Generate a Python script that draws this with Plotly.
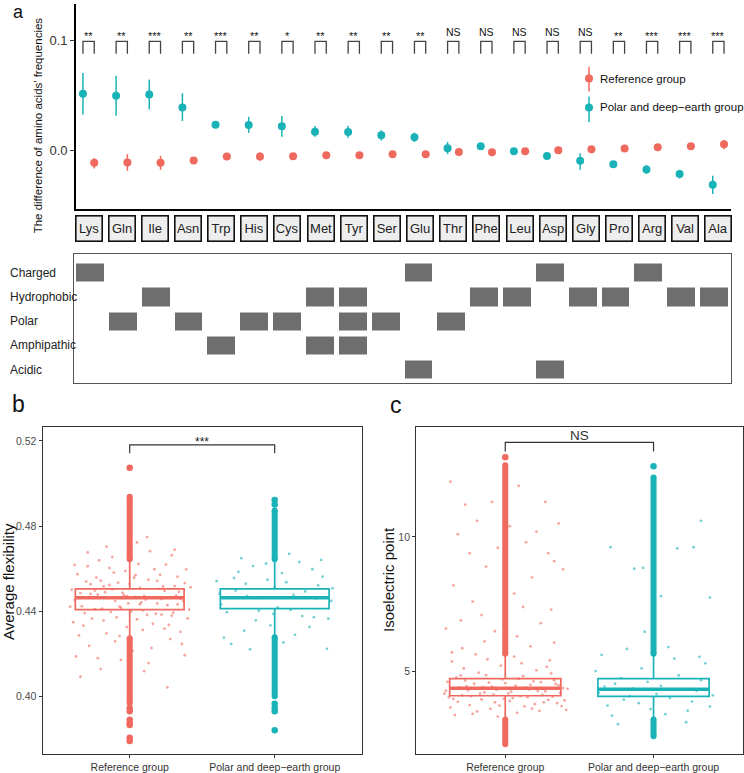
import plotly.graph_objects as go

W, H = 744, 773
def px(x): return x / W
def py(y): return 1 - y / H

RED = "#F0695F"
TEAL = "#19B3B7"
NARROW = "Liberation Sans Narrow, Arial Narrow, Liberation Sans, Arial"
SANS = "Liberation Sans, Arial, Helvetica"

# ---------------- panel a data ----------------
amino = ["Lys","Gln","Ile","Asn","Trp","His","Cys","Met","Tyr","Ser",
         "Glu","Thr","Phe","Leu","Asp","Gly","Pro","Arg","Val","Ala"]
polar_mean = [0.0515,0.0497,0.0509,0.0391,0.0233,0.0230,0.0218,0.0170,0.0167,0.0136,
              0.0118,0.0018,0.0036,-0.0009,-0.0052,-0.0097,-0.0127,-0.0176,-0.0218,-0.0315]
polar_hi = [0.0706,0.0680,0.0645,0.0521,0.0264,0.0306,0.0312,0.0221,0.0221,0.0182,
            0.0161,0.0076,0.0067,0.0006,-0.0030,-0.0027,-0.0100,-0.0136,-0.0179,-0.0233]
polar_lo = [0.0327,0.0315,0.0373,0.0267,0.0203,0.0158,0.0124,0.0124,0.0115,0.0088,
            0.0076,-0.0036,0.0006,-0.0024,-0.0075,-0.0179,-0.0155,-0.0215,-0.0258,-0.0400]
ref_mean = [-0.0115,-0.0112,-0.0115,-0.0094,-0.0058,-0.0058,-0.0055,-0.0045,-0.0045,-0.0036,
            -0.0036,-0.0015,-0.0018,-0.0009,0.0000,0.0009,0.0015,0.0027,0.0036,0.0055]
ref_hi = [-0.0073,-0.0036,-0.0052,-0.0064,-0.0033,-0.0021,-0.0030,-0.0024,-0.0021,-0.0018,
          -0.0018,0.0003,0.0000,0.0009,0.0018,0.0024,0.0030,0.0042,0.0052,0.0094]
ref_lo = [-0.0167,-0.0188,-0.0179,-0.0124,-0.0082,-0.0097,-0.0082,-0.0067,-0.0070,-0.0055,
          -0.0055,-0.0033,-0.0036,-0.0027,-0.0018,-0.0006,0.0000,0.0012,0.0021,0.0009]
signif = ["**","**","***","**","***","**","*","**","**","**",
          "**","NS","NS","NS","NS","NS","**","***","***","***"]
a_ticks = [0.0, 0.1]
a_ticktext = ["0.0", "0.1"]

# ---------------- heatmap data ----------------
properties = ["Charged", "Hydrophobic", "Polar", "Amphipathic", "Acidic"]
members = {
    "Charged": ["Lys", "Glu", "Asp", "Arg"],
    "Hydrophobic": ["Ile", "Met", "Tyr", "Phe", "Leu", "Gly", "Pro", "Val", "Ala"],
    "Polar": ["Gln", "Asn", "His", "Cys", "Tyr", "Ser", "Thr"],
    "Amphipathic": ["Trp", "Met", "Tyr"],
    "Acidic": ["Glu", "Asp"],
}

# ---------------- panels b & c data ----------------
groups = ["Reference group", "Polar and deep\u2212earth group"]

flex_box = {  # q1, median, q3, lower fence, upper fence
    "ref":   [0.4407, 0.4463, 0.4505, 0.4273, 0.4644],
    "polar": [0.4412, 0.4463, 0.4505, 0.4278, 0.4644],
}
flex_dense = {
    "ref":   [(0.4644, 0.4938), (0.3969, 0.4273)],
    "polar": [(0.4644, 0.4873), (0.4000, 0.4278)],
}
flex_single = {
    "ref":   [0.5074, 0.3945, 0.3930, 0.3890, 0.3875, 0.3865, 0.3805, 0.3790],
    "polar": [0.4901, 0.4922, 0.3965, 0.3945, 0.3930, 0.3840],
}
pi_box = {
    "ref":   [4.104, 4.385, 4.742, 3.22, 5.66],
    "polar": [4.080, 4.348, 4.742, 3.22, 5.66],
}
pi_dense = {
    "ref":   [(5.66, 12.66), (2.30, 3.22)],
    "polar": [(5.66, 12.21), (2.60, 3.22)],
}
pi_single = {
    "ref":   [12.96],
    "polar": [12.63],
}
flex_ticks = [0.40, 0.44, 0.48, 0.52]
pi_ticks = [5, 10]

# jittered observations (offset from group centre, value)
ref_b_jitter = [
    (-0.38,0.4452),(-0.31,0.4391),(-0.27,0.4527),(-0.22,0.4478),(-0.18,0.4356),(-0.12,0.4503),
    (-0.07,0.4421),(-0.03,0.4589),(0.04,0.4467),(0.09,0.4312),(0.13,0.4548),(0.19,0.4436),
    (0.24,0.4495),(0.29,0.4379),(0.33,0.4562),(0.37,0.4448),(0.41,0.4407),(-0.40,0.4501),
    (-0.35,0.4286),(-0.29,0.4611),(-0.24,0.4409),(-0.20,0.4543),(-0.15,0.4462),(-0.10,0.4258),
    (-0.05,0.4487),(0.01,0.4399),(0.06,0.4622),(0.11,0.4455),(0.16,0.4341),(0.21,0.4571),
    (0.26,0.4428),(0.31,0.4518),(0.35,0.4303),(0.39,0.4596),(-0.36,0.4574),(-0.33,0.4423),
    (-0.26,0.4365),(-0.21,0.4639),(-0.17,0.4489),(-0.13,0.4397),(-0.08,0.4534),(-0.02,0.4326),
    (0.03,0.4557),(0.08,0.4441),(0.14,0.4682),(0.18,0.4388),(0.23,0.4516),(0.28,0.4269),
    (0.32,0.4473),(0.38,0.4532),(-0.39,0.4348),(-0.34,0.4485),(-0.28,0.4237),(-0.23,0.4558),
    (-0.19,0.4412),(-0.14,0.4603),(-0.09,0.4371),(-0.04,0.4476),(0.02,0.4214),(0.07,0.4509),
    (0.12,0.4383),(0.17,0.4597),(0.22,0.4457),(0.27,0.4335),(0.34,0.4491),(0.40,0.4366),
    (-0.37,0.4187),(-0.30,0.4539),(-0.25,0.4463),(-0.16,0.4296),(-0.11,0.4581),(-0.06,0.4415),
    (0.00,0.4528),(0.05,0.4362),(0.10,0.4472),(0.15,0.4227),(0.20,0.4505),(0.25,0.4619),
    (0.30,0.4393),(0.36,0.4246),(-0.38,0.4617),(-0.32,0.4332),(-0.27,0.4481),(-0.22,0.4179),
    (-0.18,0.4517),(-0.12,0.4654),(-0.07,0.4283),(-0.01,0.4437),(0.04,0.4569),(0.09,0.4404),
    (0.13,0.4156),(0.19,0.4542),(0.24,0.4318),(0.29,0.4663),(0.33,0.4432),(0.38,0.4193),
    (-0.34,0.4092),(-0.20,0.4128),(-0.06,0.4171),(0.10,0.4118),(0.26,0.4042),(0.12,0.4748),
    (-0.16,0.4703),(0.31,0.4689),(-0.29,0.4676),(0.05,0.4723),(-0.41,0.4421),(0.42,0.4512),
    (-0.10,0.4448),(0.16,0.4466),(-0.24,0.4497),(0.22,0.4384),(-0.14,0.4523),(0.35,0.4458),
    (-0.02,0.4471),(0.07,0.4433),
]
polar_b_jitter = [
    (-0.37,0.4432),(-0.30,0.4246),(-0.25,0.4585),(-0.19,0.4471),(-0.13,0.4357),(-0.06,0.4624),
    (0.02,0.4418),(0.08,0.4536),(0.14,0.4289),(0.21,0.4493),(0.27,0.4372),(0.33,0.4562),
    (0.39,0.4448),(-0.40,0.4541),(-0.33,0.4395),(-0.27,0.4497),(-0.21,0.4308),(-0.15,0.4612),
    (-0.09,0.4462),(-0.03,0.4333),(0.05,0.4579),(0.11,0.4406),(0.17,0.4631),(0.24,0.4326),
    (0.30,0.4521),(0.36,0.4223),(-0.35,0.4276),(-0.23,0.4649),(-0.11,0.4402),(0.00,0.4512),
    (0.13,0.4476),(0.26,0.4597),(0.37,0.4365),(-0.28,0.4556),(-0.17,0.4221),(0.06,0.4253),
    (0.19,0.4377),(0.32,0.4641),(-0.05,0.4548),(0.10,0.4669),(-0.38,0.4482),(0.40,0.4508),
    (-0.01,0.4387),(0.28,0.4459),(-0.20,0.4529),
]
ref_c_jitter = [
    (-0.39,4.62),(-0.35,3.98),(-0.31,4.41),(-0.28,5.12),(-0.24,3.76),(-0.21,4.55),(-0.17,4.18),
    (-0.13,4.87),(-0.10,3.62),(-0.06,4.33),(-0.02,4.71),(0.03,3.91),(0.07,4.48),(0.11,5.31),
    (0.15,4.05),(0.19,4.64),(0.23,3.54),(0.27,4.27),(0.31,4.93),(0.35,3.83),(0.39,4.39),
    (-0.37,3.67),(-0.33,4.78),(-0.29,4.12),(-0.26,4.45),(-0.22,3.43),(-0.18,4.96),(-0.14,4.23),
    (-0.11,4.59),(-0.07,3.86),(-0.03,5.22),(0.01,4.36),(0.05,4.02),(0.09,4.74),(0.13,3.71),
    (0.17,4.51),(0.21,5.05),(0.25,4.14),(0.29,3.95),(0.33,4.68),(0.37,4.21),(0.41,3.58),
    (-0.40,4.29),(-0.36,5.38),(-0.32,3.88),(-0.27,4.67),(-0.23,4.09),(-0.19,3.52),(-0.15,4.42),
    (-0.12,5.46),(-0.08,4.15),(-0.04,3.74),(0.00,4.57),(0.04,4.26),(0.08,3.47),(0.12,4.83),
    (0.16,4.34),(0.20,3.79),(0.24,4.61),(0.28,5.18),(0.32,4.07),(0.36,4.49),(0.40,3.93),
    (-0.38,4.05),(-0.34,3.39),(-0.30,4.86),(-0.25,4.31),(-0.20,5.64),(-0.16,3.97),(-0.09,4.44),
    (-0.05,3.33),(0.02,4.19),(0.06,5.56),(0.10,4.09),(0.14,4.41),(0.18,3.63),(0.22,4.28),
    (0.26,3.86),(0.30,5.42),(0.34,4.54),(0.38,3.72),(-0.29,5.87),(-0.14,6.12),(0.17,5.94),
    (0.33,6.08),(-0.36,5.71),(0.08,6.31),(-0.41,4.18),(0.42,4.36),(-0.01,3.99),
    (-0.37,12.05),(-0.27,11.2),(-0.32,10.1),(-0.19,10.6),(-0.24,9.4),(-0.09,11.3),(-0.13,8.9),
    (0.03,10.4),(0.09,11.9),(0.14,9.8),(0.21,10.2),(0.27,11.3),(0.33,9.1),(0.36,10.5),
    (-0.35,8.2),(-0.22,7.6),(-0.05,9.6),(0.06,7.9),(0.18,8.5),(0.31,7.3),(-0.30,6.9),
    (-0.16,7.1),(0.24,6.8),(0.39,8.8),(-0.40,6.6),(0.12,7.4),(-0.07,6.5),(0.29,9.4),
]
polar_c_jitter = [
    (-0.37,4.21),(-0.31,3.74),(-0.26,4.55),(-0.20,3.96),(-0.14,4.38),(-0.08,5.12),(-0.02,3.61),
    (0.05,4.47),(0.11,4.02),(0.17,4.86),(0.23,3.55),(0.29,4.29),(0.35,5.31),(0.40,4.12),
    (-0.39,5.02),(-0.33,4.44),(-0.28,3.37),(-0.22,4.76),(-0.16,4.09),(-0.10,3.83),(-0.04,4.62),
    (0.02,4.17),(0.08,3.42),(0.14,5.48),(0.20,4.33),(0.26,3.89),(0.32,4.68),(0.38,3.71),
    (-0.35,5.62),(-0.18,5.84),(0.10,5.91),(0.31,5.55),(-0.06,6.48),(-0.29,9.62),(-0.07,8.85),
    (-0.13,8.82),(0.16,9.58),(0.27,9.62),(0.32,10.6),(0.38,7.75),(0.05,7.8),(-0.24,3.05),
    (0.22,3.12),
]

# ---------------- style constants ----------------
DODGE = 0.17
BR_LOW, BR_TOP = 0.0882, 0.0995
BOX_W = 0.75

fig = go.Figure()

def ann(**kw):
    d = dict(showarrow=False, xanchor="center", yanchor="middle")
    d.update(kw)
    return d

# ---- panel a : point ranges ----
idx = list(range(len(amino)))
fig.add_trace(go.Scatter(
    x=[i - DODGE for i in idx], y=polar_mean, mode="markers",
    marker=dict(color=TEAL, size=8),
    error_y=dict(type="data", symmetric=False,
                 array=[h - m for h, m in zip(polar_hi, polar_mean)],
                 arrayminus=[m - l for m, l in zip(polar_mean, polar_lo)],
                 color=TEAL, thickness=1.5, width=0),
    xaxis="x", yaxis="y", showlegend=False, hoverinfo="skip"))
fig.add_trace(go.Scatter(
    x=[i + DODGE for i in idx], y=ref_mean, mode="markers",
    marker=dict(color=RED, size=8),
    error_y=dict(type="data", symmetric=False,
                 array=[h - m for h, m in zip(ref_hi, ref_mean)],
                 arrayminus=[m - l for m, l in zip(ref_mean, ref_lo)],
                 color=RED, thickness=1.5, width=0),
    xaxis="x", yaxis="y", showlegend=False, hoverinfo="skip"))

bx, by = [], []
for i in idx:
    bx += [i - DODGE, i - DODGE, i + DODGE, i + DODGE, None]
    by += [BR_LOW, BR_TOP, BR_TOP, BR_LOW, None]
fig.add_trace(go.Scatter(x=bx, y=by, mode="lines", line=dict(color="#444444", width=1.3),
                         xaxis="x", yaxis="y", showlegend=False, hoverinfo="skip"))

annotations = []
for i, s in enumerate(signif):
    ns = s == "NS"
    annotations.append(ann(x=i, xref="x", y=py(32.5 if ns else 36), yref="paper", text=s,
                           font=dict(family=SANS, size=10.5 if ns else 11, color="#111111")))
for i, name in enumerate(amino):
    annotations.append(ann(x=i, xref="x", y=py(230), yref="paper", text=name,
                           width=23, height=22, borderpad=1,
                           bgcolor="#EEEEEE", bordercolor="#111111", borderwidth=1.6,
                           font=dict(family=NARROW, size=13, color="#222222")))

# ---- heatmap ----
z = [[1 if a in members[p] else 0 for a in amino] for p in properties]
fig.add_trace(go.Heatmap(z=z, x=idx, y=list(range(len(properties))),
                         colorscale=[[0, "#FFFFFF"], [1, "#6E6E6E"]], showscale=False,
                         xgap=5, ygap=6, xaxis="x2", yaxis="y2", hoverinfo="skip"))
for r, p in enumerate(properties):
    annotations.append(ann(x=px(8), xref="paper", xanchor="left", y=r, yref="y2", text=p,
                           font=dict(family=NARROW, size=12, color="#222222")))

# ---- panels b & c ----
def add_box_panel(xa, ya, box, dense, single, jit, colors):
    for k, (key, col) in enumerate(zip(["ref", "polar"], colors)):
        xc = k + 1
        q1, med, q3, lf, uf = box[key]
        for lo, hi in dense[key]:
            fig.add_trace(go.Scatter(x=[xc, xc], y=[lo, hi], mode="lines+markers",
                                     line=dict(color=col, width=6), marker=dict(color=col, size=6),
                                     xaxis=xa, yaxis=ya, showlegend=False, hoverinfo="skip"))
        fig.add_trace(go.Scatter(x=[xc] * len(single[key]), y=single[key], mode="markers",
                                 marker=dict(color=col, size=6.5),
                                 xaxis=xa, yaxis=ya, showlegend=False, hoverinfo="skip"))
        fig.add_trace(go.Box(x=[xc], q1=[q1], median=[med], q3=[q3], lowerfence=[lf],
                             upperfence=[uf], width=BOX_W, whiskerwidth=0,
                             line=dict(color=col, width=1.7), fillcolor="rgba(0,0,0,0)",
                             boxpoints=False, xaxis=xa, yaxis=ya, showlegend=False,
                             hoverinfo="skip"))
        fig.add_trace(go.Scatter(x=[xc - BOX_W / 2, xc + BOX_W / 2], y=[med, med], mode="lines",
                                 line=dict(color=col, width=3.5),
                                 xaxis=xa, yaxis=ya, showlegend=False, hoverinfo="skip"))
        pts = jit[key]
        fig.add_trace(go.Scatter(x=[xc + d for d, _ in pts], y=[v for _, v in pts], mode="markers",
                                 marker=dict(color=col, size=2.8, opacity=0.6),
                                 xaxis=xa, yaxis=ya, showlegend=False, hoverinfo="skip"))

add_box_panel("x3", "y3", flex_box, flex_dense, flex_single,
              {"ref": ref_b_jitter, "polar": polar_b_jitter}, [RED, TEAL])
add_box_panel("x4", "y4", pi_box, pi_dense, pi_single,
              {"ref": ref_c_jitter, "polar": polar_c_jitter}, [RED, TEAL])

# comparison brackets
fig.add_trace(go.Scatter(x=[1, 1, 2, 2], y=[0.5142, 0.5181, 0.5181, 0.5142], mode="lines",
                         line=dict(color="#333333", width=1.2), xaxis="x3", yaxis="y3",
                         showlegend=False, hoverinfo="skip"))
fig.add_trace(go.Scatter(x=[1, 1, 2, 2], y=[13.17, 13.51, 13.51, 13.17], mode="lines",
                         line=dict(color="#333333", width=1.2), xaxis="x4", yaxis="y4",
                         showlegend=False, hoverinfo="skip"))
annotations.append(ann(x=1.5, xref="x3", y=py(444), yref="paper", text="***",
                       font=dict(family=SANS, size=12, color="#222222")))
annotations.append(ann(x=1.5, xref="x4", y=py(438), yref="paper", text="NS",
                       font=dict(family=SANS, size=13.5, color="#333333")))

# titles and panel letters
annotations += [
    ann(x=px(38), y=py(126), xref="paper", yref="paper", textangle=-90,
        text="The difference of amino acids\u2019 frequencies",
        font=dict(family=SANS, size=11.5, color="#111111")),
    ann(x=px(9), y=py(585), xref="paper", yref="paper", textangle=-90,
        text="Average flexibility", font=dict(family=SANS, size=15, color="#111111")),
    ann(x=px(389), y=py(583), xref="paper", yref="paper", textangle=-90,
        text="Isoelectric point", font=dict(family=SANS, size=15, color="#111111")),
    ann(x=px(18), y=py(0), xref="paper", yref="paper", yanchor="top", text="a",
        font=dict(family=SANS, size=18, color="#111111")),
    ann(x=px(18), y=py(406), xref="paper", yref="paper", text="b",
        font=dict(family=SANS, size=23, color="#111111")),
    ann(x=px(396), y=py(407), xref="paper", yref="paper", text="c",
        font=dict(family=SANS, size=23, color="#111111")),
    ann(x=px(598), y=py(79), xref="paper", yref="paper", xanchor="left",
        text="Reference group", font=dict(family=SANS, size=11.5, color="#111111")),
    ann(x=px(598), y=py(108), xref="paper", yref="paper", xanchor="left",
        text="Polar and deep\u2212earth group", font=dict(family=SANS, size=11.5, color="#111111")),
]

# legend glyphs (point-range keys)
shapes = []
for (ymid, ytop, ybot, col) in [(79, 67, 92, RED), (108, 97, 123, TEAL)]:
    shapes.append(dict(type="line", xref="paper", yref="paper", x0=px(589), x1=px(589),
                       y0=py(ybot), y1=py(ytop), line=dict(color=col, width=1.5)))
    shapes.append(dict(type="circle", xref="paper", yref="paper", x0=px(585), x1=px(593),
                       y0=py(ymid + 4), y1=py(ymid - 4), fillcolor=col, line=dict(width=0)))

common_box_axis = dict(showline=True, mirror=True, linecolor="#333333", linewidth=1.3,
                       ticks="outside", ticklen=3, tickcolor="#333333", tickwidth=1,
                       showgrid=False, zeroline=False)

fig.update_layout(
    width=W, height=H, margin=dict(l=0, r=0, t=0, b=0),
    paper_bgcolor="white", plot_bgcolor="white",
    font=dict(family=SANS, color="#222222"),
    annotations=annotations, shapes=shapes, showlegend=False,
    xaxis=dict(domain=[px(76), px(731)], range=[-0.38, 19.38], showline=True,
               linecolor="black", linewidth=1.8, showticklabels=False, ticks="",
               showgrid=False, zeroline=False, anchor="y"),
    yaxis=dict(domain=[py(210), py(4)], range=[-0.0536, 0.1336], showline=True,
               linecolor="black", linewidth=1.8, ticks="outside", ticklen=4,
               tickcolor="#333333", tickvals=a_ticks, ticktext=a_ticktext,
               tickfont=dict(family=SANS, size=13, color="#333333"),
               showgrid=False, zeroline=False, anchor="x"),
    xaxis2=dict(domain=[px(74), px(731)], range=[-0.5, 19.5], showline=True, mirror=True,
                linecolor="#555555", linewidth=1, showticklabels=False, ticks="",
                showgrid=False, zeroline=False, anchor="y2"),
    yaxis2=dict(domain=[py(385), py(255)], range=[4.55, -0.78], showline=True, mirror=True,
                linecolor="#555555", linewidth=1, showticklabels=False, ticks="",
                showgrid=False, zeroline=False, anchor="x2"),
    xaxis3=dict(domain=[px(42.7), px(361.7)], range=[0.4, 2.6], tickvals=[1, 2],
                ticktext=groups, tickfont=dict(family=SANS, size=10.5, color="#333333"),
                anchor="y3", **common_box_axis),
    yaxis3=dict(domain=[py(757.7), py(429.3)], range=[0.373, 0.5265], tickvals=flex_ticks,
                ticktext=["%.2f" % t for t in flex_ticks],
                tickfont=dict(family=SANS, size=10.5, color="#4D4D4D"),
                anchor="x3", **common_box_axis),
    xaxis4=dict(domain=[px(416.3), px(742.5)], range=[0.4, 2.6], tickvals=[1, 2],
                ticktext=groups, tickfont=dict(family=SANS, size=10.5, color="#333333"),
                anchor="y4", **common_box_axis),
    yaxis4=dict(domain=[py(757.7), py(429.3)], range=[1.95, 14.08], tickvals=pi_ticks,
                ticktext=[str(t) for t in pi_ticks],
                tickfont=dict(family=SANS, size=10.5, color="#4D4D4D"),
                anchor="x4", **common_box_axis),
)

fig.write_html("out.html", config={"displayModeBar": False},
               post_script="document.body.style.margin='0';document.body.style.overflow='hidden';")
